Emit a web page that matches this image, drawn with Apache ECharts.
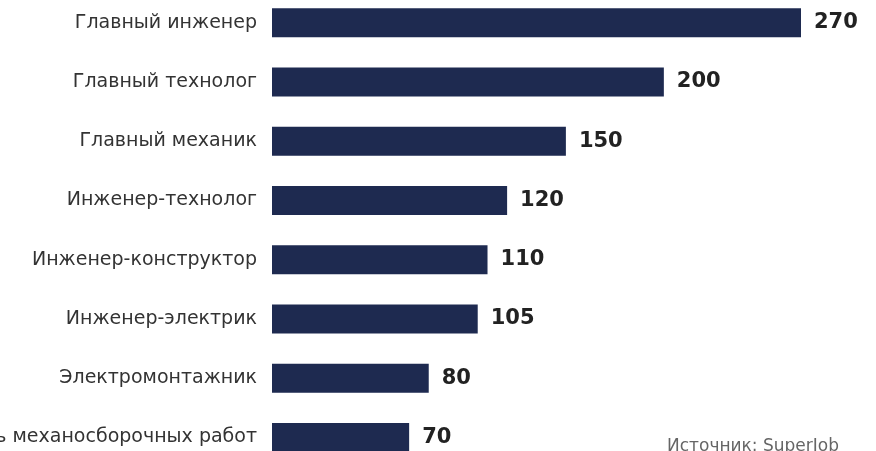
<!DOCTYPE html>
<html>
<head>
<meta charset="utf-8">
<script src="https://cdn.jsdelivr.net/npm/echarts@6/dist/echarts.min.js"></script>
<style>
  html, body { margin: 0; padding: 0; background: #fff; }
  #main { width: 876px; height: 451px; }
</style>
</head>
<body>
<div id="main"></div>
<script>
// данные
const categories = [
    'Главный инженер',
    'Главный технолог',
    'Главный механик',
    'Инженер-технолог',
    'Инженер-конструктор',
    'Инженер-электрик',
    'Электромонтажник',
    'Слесарь механосборочных работ'
];
const values = [270, 200, 150, 120, 110, 105, 80, 70];
const sourceText = 'Источник: SuperJob';

const chart = echarts.init(document.getElementById('main'));

const option = {
    backgroundColor: '#ffffff',
    animation: false,
    grid: {
        left: 272,
        width: 529,
        top: -7,
        bottom: -16,
        containLabel: false,
        outerBoundsMode: 'none'
    },
    xAxis: {
        type: 'value',
        min: 0,
        max: 270,
        show: false
    },
    yAxis: {
        type: 'category',
        data: categories,
        inverse: true,
        axisLine: { show: false },
        axisTick: { show: false },
        splitLine: { show: false },
        axisLabel: {
            margin: 15,
            color: '#333333',
            fontFamily: 'DejaVu Sans',
            fontSize: 19
        }
    },
    series: [{
        type: 'bar',
        data: values,
        barWidth: 29,
        itemStyle: { color: '#1e2a50' },
        label: {
            show: true,
            position: 'right',
            distance: 13,
            color: '#222222',
            fontFamily: 'DejaVu Sans',
            fontWeight: 'bold',
            fontSize: 21
        }
    }],
    graphic: [{
        type: 'text',
        right: 37,
        bottom: -4,
        style: {
            text: sourceText,
            fill: '#666666',
            font: '17px "DejaVu Sans"'
        }
    }]
};

chart.setOption(option);
</script>
</body>
</html>
